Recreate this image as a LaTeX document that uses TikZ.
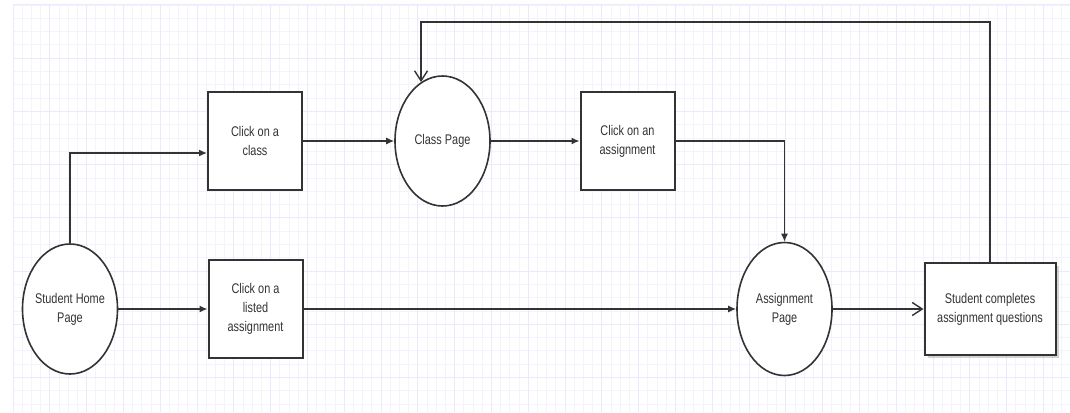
\documentclass[tikz,border=0pt]{standalone}
\usepackage{fontspec}
\newfontfamily\diagfont[FakeStretch=0.78]{Liberation Sans}
\usetikzlibrary{shapes.geometric, arrows.meta, positioning, calc, shadows}
\definecolor{gridminor}{RGB}{243,243,253}
\definecolor{gridmajor}{RGB}{234,234,252}
\definecolor{inkgray}{RGB}{51,51,51}

\begin{document}
\begin{tikzpicture}[
    x=1pt, y=-1pt,
    action/.style={rectangle, draw=inkgray, line width=2pt, fill=white, minimum width=94pt, minimum height=98pt, align=center, font=\diagfont\fontsize{14}{19}\selectfont, text=inkgray, inner sep=2pt},
    page/.style={ellipse, draw=inkgray, line width=1.6pt, fill=white, minimum width=95pt, minimum height=130pt, align=center, font=\diagfont\fontsize{14}{19}\selectfont, text=inkgray, inner sep=0pt, inner xsep=-4pt},
    arrow/.style={-{Latex[length=8pt, width=7pt]}, line width=1.4pt, draw=inkgray},
    openarrow/.style={-{Straight Barb[length=10pt, width=13pt]}, line width=1.4pt, draw=inkgray},
    gridline/.style={draw=gridminor, line width=0.8pt},
    gridbold/.style={draw=gridmajor, line width=1pt},
]
\useasboundingbox (0,0) rectangle (1070,412);
\fill[white] (0,0) rectangle (1070,412);
% background grid
\foreach \i in {0,...,114} \draw[gridline] ({13+9.2*\i},5) -- ({13+9.2*\i},412);
\foreach \j in {0,...,30} \draw[gridline] (13,{5+13.3*\j}) -- (1070,{5+13.3*\j});
\foreach \i in {0,4,...,112} \draw[gridbold] ({13+9.2*\i},5) -- ({13+9.2*\i},412);
\foreach \j in {0,4,...,28} \draw[gridbold] (13,{5+13.3*\j}) -- (1070,{5+13.3*\j});

\node[page] (home) at (70,309) {Student Home\\Page};
\node[action] (listed) at (255.5,309) {Click on a\\listed\\assignment};
\node[action] (clickclass) at (255,141) {Click on a\\class};
\node[page] (classpg) at (442.5,141) {Class Page};
\node[action] (clickasg) at (627.5,141) {Click on an\\assignment};
\node[page, minimum height=133pt] (asgpg) at (784.5,309) {Assignment\\Page};
\node[action, minimum width=131pt, minimum height=92pt, drop shadow={shadow xshift=3pt, shadow yshift=-3pt, fill=black!35}] (complete) at (990,309) {Student completes\\assignment questions};
\coordinate (loop) at (990,22);

\draw[arrow] (home.north) |- ([yshift=-12pt]clickclass.west);
\draw[arrow] (home) -- (listed);
\draw[arrow] (clickclass) -- (classpg);
\draw[arrow] (classpg) -- (clickasg);
\draw[arrow] (clickasg.east) -| (asgpg.north);
\draw[arrow] (listed) -- (asgpg);
\draw[openarrow] (asgpg) -- (complete);
\draw[openarrow] (complete.north) -- (loop) -| (classpg.110);
\end{tikzpicture}
\end{document}
